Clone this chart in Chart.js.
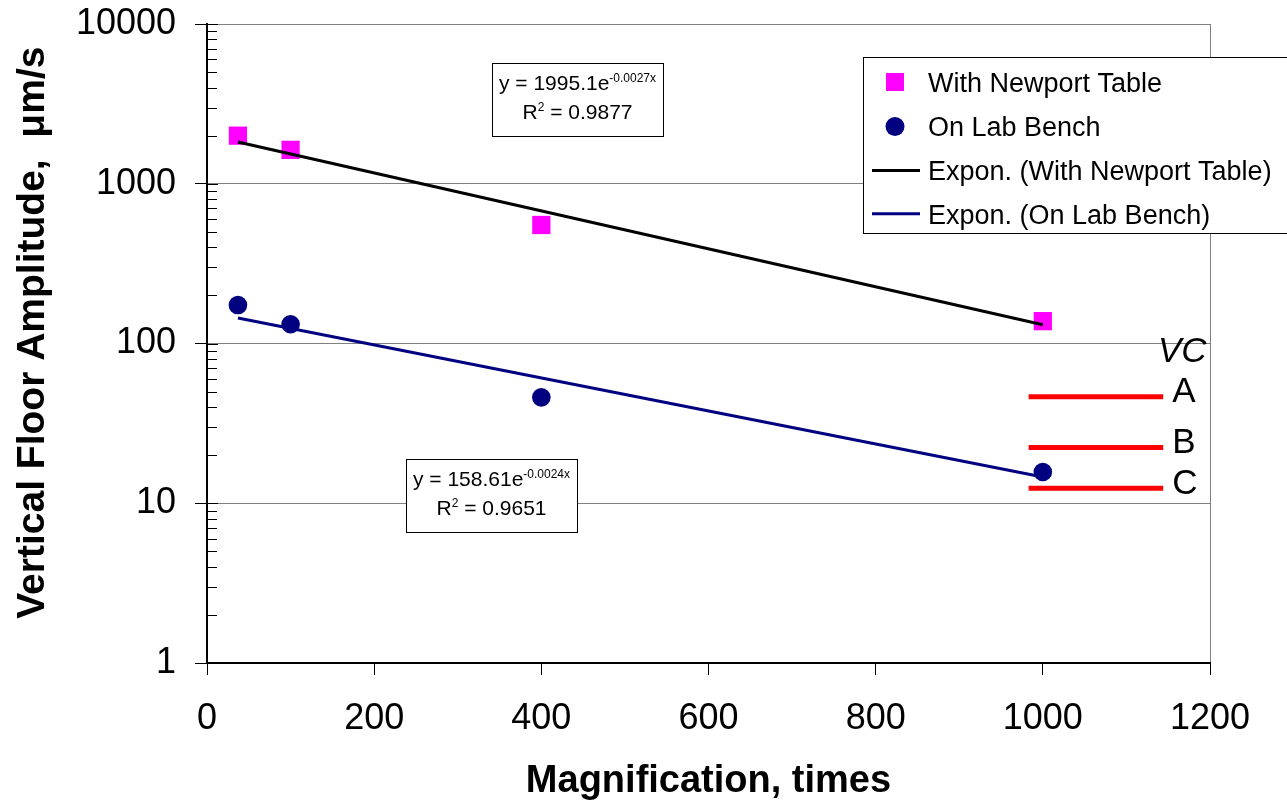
<!DOCTYPE html>
<html><head><meta charset="utf-8">
<script src="https://cdn.jsdelivr.net/npm/chart.js@4/dist/chart.umd.min.js"></script>
<style>html,body{margin:0;padding:0;background:#fff}canvas{display:block}</style>
</head><body>
<canvas id="c" width="1287" height="804"></canvas>
<script>
// ---- data ----
const magnification = [37, 100, 400, 1000];
const newportTable = [2000, 1630, 552, 138];
const labBench = [174, 132, 46, 15.7];
const newportTrendX = [37, 1000];
const newportTrendY = [1825, 131];
const labTrendX = [37, 1000];
const labTrendY = [144.5, 14.6];
const vcNames = ['A', 'B', 'C'];
const vcLevels = [46.4, 22.3, 12.4];
const vcSpanX = [983, 1144];
const xTicks = [0, 200, 400, 600, 800, 1000, 1200];
const yTicks = [1, 10, 100, 1000, 10000];
const seriesNames = ['With Newport Table', 'On Lab Bench', 'Expon. (With Newport Table)', 'Expon. (On Lab Bench)'];
const eqNewport = ['y = 1995.1e', '-0.0027x', '0.9877'];
const eqLab = ['y = 158.61e', '-0.0024x', '0.9651'];

const FONT = '"Liberation Sans", Arial, Helvetica, sans-serif';
const MAGENTA = '#FF00FF', NAVY = '#000080', RED = '#FF0000';

const pts = (xs, ys) => xs.map((x, i) => ({x, y: ys[i]}));

const datasets = [
  {label: seriesNames[2], data: pts(newportTrendX, newportTrendY), showLine: true, borderColor: '#000', borderWidth: 3, pointRadius: 0, order: 1},
  {label: seriesNames[3], data: pts(labTrendX, labTrendY), showLine: true, borderColor: NAVY, borderWidth: 3, pointRadius: 0, order: 1},
  {label: seriesNames[0], data: pts(magnification, newportTable), pointStyle: 'rect', pointRadius: 12.9, backgroundColor: MAGENTA, borderColor: MAGENTA, borderWidth: 0, order: 3},
  {label: seriesNames[1], data: pts(magnification, labBench), pointStyle: 'circle', pointRadius: 9.3, backgroundColor: NAVY, borderColor: NAVY, borderWidth: 0, order: 3}
];
vcLevels.forEach((v, i) => datasets.push({
  label: 'VC ' + vcNames[i], data: pts(vcSpanX, [v, v]), showLine: true,
  borderColor: RED, borderWidth: 5, pointRadius: 0, order: 2
}));

function drawEqBox(ctx, x, y, w, h, eq) {
  ctx.save();
  ctx.fillStyle = '#fff';
  ctx.fillRect(x, y, w, h);
  ctx.strokeStyle = '#000';
  ctx.lineWidth = 1;
  ctx.strokeRect(x + 0.5, y + 0.5, w, h);
  ctx.fillStyle = '#000';
  ctx.textBaseline = 'alphabetic';
  ctx.textAlign = 'left';
  const cx = x + w / 2;
  const mainF = '21px ' + FONT, supF = '12px ' + FONT;
  ctx.font = mainF; const w1 = ctx.measureText(eq[0]).width;
  ctx.font = supF; const w2 = ctx.measureText(eq[1]).width;
  let sx = cx - (w1 + w2) / 2;
  const b1 = y + 27;
  ctx.font = mainF; ctx.fillText(eq[0], sx, b1);
  ctx.font = supF; ctx.fillText(eq[1], sx + w1, b1 - 8);
  const r2rest = ' = ' + eq[2];
  ctx.font = mainF; const wr = ctx.measureText('R').width, wrest = ctx.measureText(r2rest).width;
  ctx.font = supF; const w2s = ctx.measureText('2').width;
  sx = cx - (wr + w2s + wrest) / 2;
  const b2 = y + 56;
  ctx.font = mainF; ctx.fillText('R', sx, b2);
  ctx.font = supF; ctx.fillText('2', sx + wr, b2 - 8);
  ctx.font = mainF; ctx.fillText(r2rest, sx + wr + w2s, b2);
  ctx.restore();
}

const decor = {
  id: 'decor',
  afterDraw(chart) {
    const ctx = chart.ctx;
    const xs = chart.scales.x, ys = chart.scales.y;
    const ax = Math.round(xs.left);
    ctx.save();
    ctx.strokeStyle = '#000';
    ctx.lineWidth = 1;
    ctx.beginPath();
    for (let d = 0; d < 4; d++) {
      for (let k = 2; k <= 9; k++) {
        const py = Math.round(ys.getPixelForValue(k * Math.pow(10, d))) + 0.5;
        ctx.moveTo(ax, py); ctx.lineTo(ax + 10, py);
      }
    }
    yTicks.forEach(v => {
      const py = Math.round(ys.getPixelForValue(v)) + 0.5;
      ctx.moveTo(ax, py); ctx.lineTo(ax + 11, py);
    });
    ctx.stroke();

    ctx.fillStyle = '#000';
    ctx.font = '35px ' + FONT;
    ctx.textAlign = 'left';
    ctx.textBaseline = 'alphabetic';
    vcLevels.forEach((v, i) => {
      const px = xs.getPixelForValue(vcSpanX[1]) + 9;
      const py = ys.getPixelForValue(v) - 7 + 12.5;
      ctx.fillText(vcNames[i], px, py);
    });
    ctx.font = 'italic 35px ' + FONT;
    ctx.textAlign = 'center';
    ctx.fillText('VC', xs.getPixelForValue(vcSpanX[1]) + 19, ys.getPixelForValue(vcLevels[0]) - 47 + 12.5);

    drawEqBox(ctx, 492, 63, 171, 73, eqNewport);
    drawEqBox(ctx, 406, 459, 171, 73, eqLab);

    const lx = 863, ly = 57;
    ctx.fillStyle = '#fff';
    ctx.fillRect(lx, ly, 440, 176);
    ctx.strokeStyle = '#000';
    ctx.lineWidth = 1;
    ctx.strokeRect(lx + 0.5, ly + 0.5, 440, 176);
    const rowsY = [82, 126.5, 170.5, 213.8];
    ctx.fillStyle = MAGENTA;
    ctx.fillRect(886, rowsY[0] - 9, 18, 18);
    ctx.fillStyle = NAVY;
    ctx.beginPath(); ctx.arc(895, rowsY[1], 9.5, 0, Math.PI * 2); ctx.fill();
    ctx.lineWidth = 3;
    ctx.strokeStyle = '#000';
    ctx.beginPath(); ctx.moveTo(872, rowsY[2]); ctx.lineTo(920, rowsY[2]); ctx.stroke();
    ctx.strokeStyle = NAVY;
    ctx.beginPath(); ctx.moveTo(872, rowsY[3]); ctx.lineTo(920, rowsY[3]); ctx.stroke();
    ctx.fillStyle = '#000';
    ctx.font = '27px ' + FONT;
    ctx.textAlign = 'left';
    ctx.textBaseline = 'alphabetic';
    seriesNames.forEach((s, i) => ctx.fillText(s, 928, rowsY[i] + 9.7));
    ctx.restore();
  }
};

new Chart(document.getElementById('c'), {
  type: 'scatter',
  data: {datasets},
  plugins: [decor],
  options: {
    responsive: false,
    animation: false,
    layout: {padding: {left: 0, top: 24, right: 77, bottom: 0}},
    plugins: {legend: {display: false}, tooltip: {enabled: false}},
    scales: {
      x: {
        type: 'linear', min: 0, max: 1200,
        afterBuildTicks: s => { s.ticks = xTicks.map(v => ({value: v})); },
        afterFit: s => { s.height = 141; s.paddingLeft = 0; s.paddingRight = 0; },
        ticks: {color: '#000', font: {family: FONT, size: 36}, padding: 22, maxRotation: 0, autoSkip: false,
          callback: v => String(v)},
        grid: {
          color: c => (c.tick && c.tick.value === 1200) ? '#808080' : 'rgba(0,0,0,0)',
          lineWidth: 1, tickColor: '#000', tickLength: 12, drawTicks: true
        },
        border: {display: true, color: '#000', width: 2},
        title: {display: true, text: 'Magnification, times', color: '#000',
          font: {family: FONT, size: 38, weight: 'bold'}, padding: {top: 0, bottom: 0}}
      },
      y: {
        type: 'logarithmic', min: 1, max: 10000,
        afterBuildTicks: s => { s.ticks = yTicks.map(v => ({value: v})); },
        afterFit: s => { s.width = 207; s.paddingTop = 0; s.paddingBottom = 0; },
        ticks: {color: '#000', font: {family: FONT, size: 36}, padding: 19, autoSkip: false,
          callback: v => String(v)},
        grid: {color: '#808080', lineWidth: 1, tickColor: '#000', tickLength: 12},
        border: {display: true, color: '#000', width: 2},
        title: {display: true, text: '  Vertical Floor Amplitude,  \u03BCm/s', color: '#000',
          font: {family: FONT, size: 39, weight: 'bold'}, padding: {top: 10, bottom: 0}}
      }
    }
  }
});
</script>
</body></html>
